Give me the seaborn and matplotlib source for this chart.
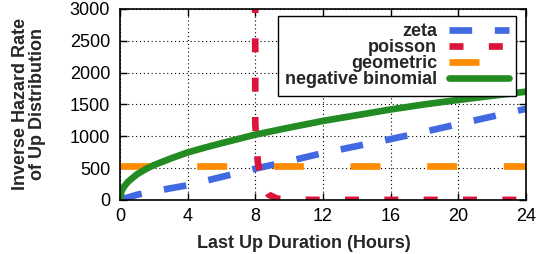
import seaborn as sns
import matplotlib.pyplot as plt
import pandas as pd

# values
zeta_hours = [0, 1, 2, 4, 6, 8, 10, 12, 14, 16, 18, 20, 22, 24]
zeta_vals = [0, 80, 135, 230, 360, 490, 610, 735, 845, 955, 1070, 1190, 1310, 1430]

poisson_hours = [7.999, 8.0, 8.15, 8.4, 8.8, 9.3, 10, 12, 14, 16, 18, 20, 22, 24]
poisson_vals = [9000, 1200, 600, 250, 80, 20, 3, 0, 0, 0, 0, 0, 0, 0]

geo_hours = [0, 24]
geo_vals = [540, 540]

nb_hours = [0, 0.1, 0.25, 0.5, 1, 1.5, 2, 3, 4, 5, 6, 8, 10, 12, 14, 16, 18, 20, 22, 24]
nb_vals = [0, 140, 210, 290, 400, 480, 545, 650, 745, 820, 890, 1025, 1135, 1240, 1330, 1420, 1500, 1570, 1635, 1700]

x_ticks = [0, 4, 8, 12, 16, 20, 24]
y_ticks = [0, 500, 1000, 1500, 2000, 2500, 3000]

sns.set_style("ticks")
plt.rcParams['font.family'] = ['Liberation Sans', 'DejaVu Sans']

fig = plt.figure(figsize=(5.4, 2.54), dpi=100)
ax = fig.add_axes([0.222, 0.213, 0.752, 0.752])

lw = 4.8
series = [
    ("zeta", zeta_hours, zeta_vals, "#4169E1", (0, (3.4, 3.4))),
    ("poisson", poisson_hours, poisson_vals, "#DC143C", (0, (2.1, 3.8))),
    ("geometric", geo_hours, geo_vals, "#FF8C00", (0, (4.5, 7.0))),
    ("negative binomial", nb_hours, nb_vals, "#228B22", "-"),
]
for name, xs, ys, col, ls in series:
    d = pd.DataFrame({"h": xs, "v": ys})
    sns.lineplot(data=d, x="h", y="v", ax=ax, color=col, linewidth=lw,
                 linestyle=ls, estimator=None, sort=False, label=name)

ax.set_xlim(0, 24)
ax.set_ylim(0, 3000)
ax.set_xticks(x_ticks)
ax.set_yticks(y_ticks)
ax.grid(True, color="black", linestyle=(0, (1, 2.5)), linewidth=0.8)
ax.tick_params(direction="in", length=5, width=1, top=True, right=True,
               labelsize=13, colors="black")
ax.tick_params(axis="y", pad=7)
ax.tick_params(axis="x", pad=6)
for s in ax.spines.values():
    s.set_visible(True)
    s.set_color("black")
    s.set_linewidth(1.2)

ax.set_xlabel("Last Up Duration (Hours)", fontsize=13, fontweight="bold")
ax.set_ylabel("Inverse Hazard Rate\nof Up Distribution", fontsize=13,
              fontweight="bold", linespacing=1.0)
ax.xaxis.set_label_coords(0.454, -0.185)
ax.yaxis.set_label_coords(-0.183, 0.5)

leg = ax.legend(loc="upper right", bbox_to_anchor=(0.975, 0.963), borderaxespad=0,
                markerfirst=False, frameon=True, fancybox=False, framealpha=1,
                edgecolor="black", prop={"weight": "bold", "size": 13},
                labelspacing=-0.05, handlelength=3.3, handletextpad=0.65, borderpad=0.4)
leg.get_frame().set_linewidth(1.0)

fig.savefig("out.png", dpi=100)
